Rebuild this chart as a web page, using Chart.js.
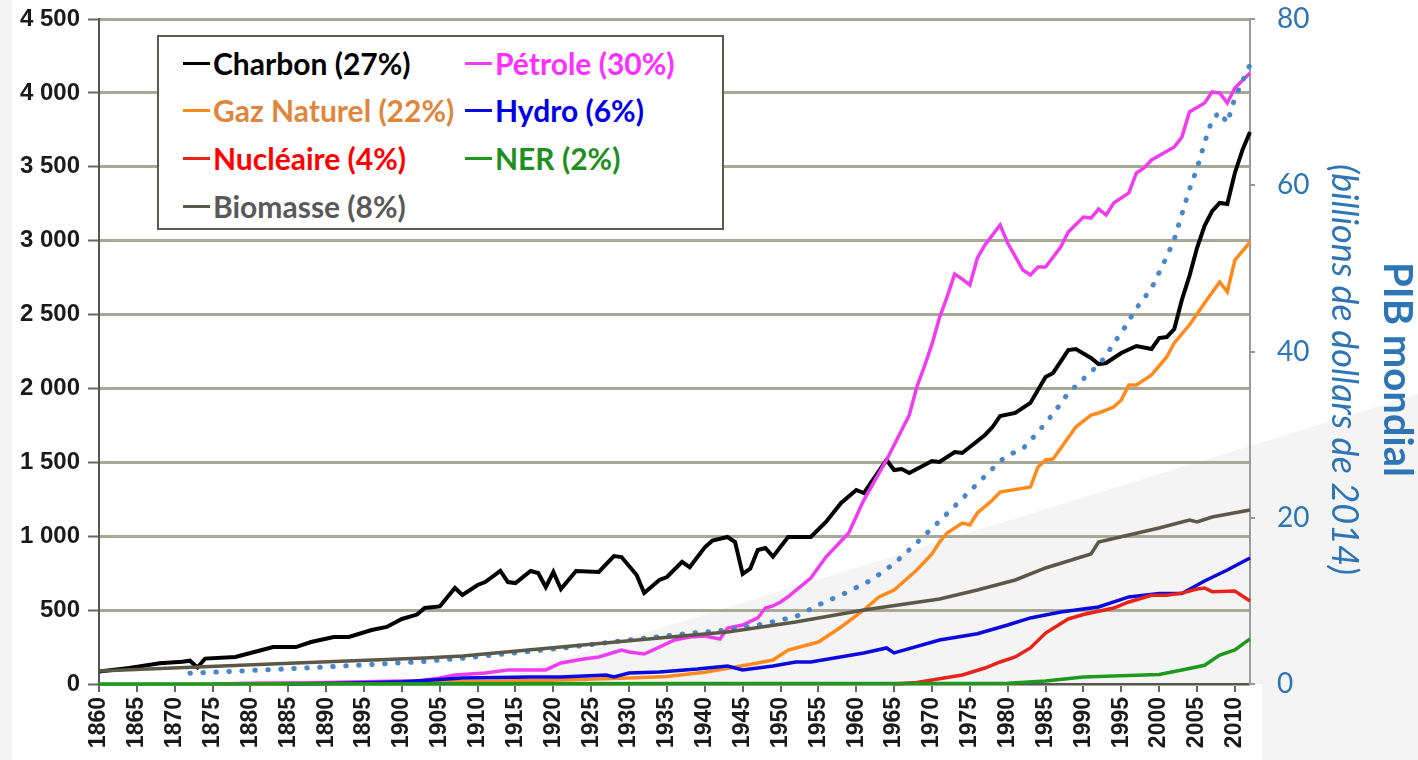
<!DOCTYPE html>
<html lang="fr">
<head>
<meta charset="utf-8">
<title>Consommation mondiale d'énergie et PIB</title>
<script src="https://cdn.jsdelivr.net/npm/chart.js@4.4.1/dist/chart.umd.min.js"></script>
<style>
    html, body { margin: 0; padding: 0; background: #ffffff; }
    #wrap { position: relative; width: 1418px; height: 760px; overflow: hidden; }
    #chartCanvas { position: absolute; left: 0; top: 0; }
    #legend {
        position: absolute; left: 157px; top: 35px; width: 563px; height: 191px;
        border: 2px solid #5a5a52; background: #ffffff;
        font-family: Lato, 'Open Sans', sans-serif; font-weight: bold; font-size: 30px;
    }
    .item { position: absolute; display: flex; align-items: center; height: 40px; white-space: nowrap; }
    .item .swatch { width: 27px; height: 3px; margin-right: 3px; }
</style>
</head>
<body>
<div id="wrap">
    <canvas id="chartCanvas" width="1418" height="760"></canvas>
    <div id="legend"></div>
</div>
<script>
// Séries (Mtep)
const charbonYears  = [1860,1864,1868,1871,1872,1873,1874,1878,1880,1883,1886,1888,1891,1893,1896,1898,1900,1902,1903,1905,1907,1908,1910,1911,1913,1914,1915,1917,1918,1919,1920,1921,1923,1926,1928,1929,1931,1932,1934,1935,1937,1938,1940,1941,1943,1944,1945,1946,1947,1948,1949,1951,1954,1956,1958,1960,1961,1964,1965,1966,1967,1970,1971,1973,1974,1977,1978,1979,1981,1983,1985,1986,1988,1989,1991,1992,1993,1995,1997,1999,2000,2001,2002,2003,2004,2005,2006,2007,2008,2009,2010,2011,2012];
const charbonValues = [85,108,140,150,158,112,172,183,210,250,250,284,318,318,365,386,440,470,515,525,650,602,670,690,765,690,683,765,751,656,758,643,765,758,866,859,738,616,704,724,826,790,925,970,995,961,745,780,907,920,862,995,995,1096,1225,1313,1292,1516,1448,1455,1428,1509,1502,1570,1563,1685,1739,1814,1834,1902,2078,2105,2260,2267,2206,2165,2172,2240,2287,2267,2341,2348,2402,2599,2760,2950,3100,3200,3255,3248,3458,3613,3735];

const petroleYears  = [1875,1880,1890,1900,1902,1905,1907,1911,1914,1919,1921,1924,1926,1929,1930,1932,1934,1936,1938,1940,1942,1943,1945,1947,1948,1949,1950,1951,1954,1956,1959,1961,1964,1967,1968,1969,1970,1971,1972,1973,1974,1975,1976,1977,1979,1980,1982,1983,1984,1985,1987,1988,1990,1991,1992,1993,1994,1996,1997,1998,1999,2002,2003,2004,2006,2007,2008,2009,2010,2012];
const petroleValues = [0,5,10,20,18,40,61,74,95,95,142,169,183,230,217,203,250,298,318,325,304,379,399,447,514,528,555,590,717,859,1022,1245,1516,1820,2010,2150,2300,2480,2620,2774,2740,2700,2883,2971,3106,2984,2802,2768,2822,2822,2957,3059,3160,3153,3214,3174,3255,3323,3458,3492,3546,3634,3701,3871,3932,4006,3999,3932,4033,4135];

const gazYears  = [1880,1890,1900,1920,1930,1935,1940,1944,1947,1949,1951,1955,1958,1961,1963,1965,1968,1970,1971,1972,1974,1975,1976,1978,1979,1983,1984,1985,1986,1989,1991,1992,1994,1995,1996,1997,1999,2001,2002,2004,2006,2008,2009,2010,2012];
const gazValues = [0,5,10,25,40,50,80,115,142,162,230,284,386,501,589,636,771,880,960,1022,1089,1076,1157,1245,1299,1333,1468,1516,1523,1739,1820,1834,1874,1922,2023,2023,2091,2213,2308,2429,2578,2720,2653,2869,2990];

const hydroYears  = [1885,1895,1900,1905,1908,1917,1921,1927,1928,1930,1934,1939,1943,1945,1949,1952,1954,1961,1964,1965,1971,1976,1980,1983,1987,1992,1996,2000,2003,2006,2009,2012];
const hydroValues = [0,8,15,30,40,47,47,61,47,74,81,101,122,95,122,149,149,210,244,210,298,340,399,447,487,521,589,612,612,697,771,853];

const nucleaireYears  = [1965,1968,1970,1974,1977,1979,1981,1983,1985,1988,1990,1994,1996,1999,2001,2003,2005,2006,2007,2010,2012];
const nucleaireValues = [0,10,27,61,108,149,183,244,345,440,470,514,555,600,600,615,643,650,625,629,562];

const nerYears  = [1860,1980,1985,1990,1994,2000,2003,2006,2008,2010,2012];
const nerValues = [0,5,20,47,54,65,95,127,196,230,305];

const biomasseYears  = [1860,1873,1886,1903,1908,1921,1934,1943,1952,1961,1971,1976,1981,1985,1991,1992,1996,2000,2004,2005,2007,2012];
const biomasseValues = [88,115,142,176,189,250,311,352,420,501,575,636,704,785,880,961,1008,1056,1110,1096,1130,1177];

// PIB mondial (axe de droite)
const pibYears  = [1872,1882,1890,1902,1908,1921,1930,1938,1943,1947,1952,1955,1958,1962,1965,1966,1968,1971,1973,1976,1979,1980,1982,1984,1986,1988,1990,1992,1993,1994,1995,1997,1999,2001,2002,2003,2004,2005,2006,2007,2008,2009,2010,2011,2012];
const pibValues = [1.3,1.7,2.05,2.65,3.1,4.3,5.3,6.1,6.5,7.1,8.1,9.5,10.7,12.5,14.5,15.3,17.0,19.6,21.4,24.1,26.8,27.5,28.3,30.3,32.5,35.0,36.7,38.4,39.5,41.0,42.2,45.2,47.6,51.4,53.5,56.5,59.5,62.0,65.1,67.9,68.8,67.5,70.5,72.5,74.5];

// Légende
const seriesNames  = ['Charbon (27%)', 'Gaz Naturel (22%)', 'Nucléaire (4%)', 'Biomasse (8%)', 'Pétrole (30%)', 'Hydro (6%)', 'NER (2%)'];
const lineColors   = ['#000000', '#ff8a1c', '#e8231a', '#5b5848', '#f03cf0', '#0a0ae0', '#1c9a1c'];
const textColors   = ['#000000', '#e0863c', '#ff0000', '#595959', '#ff30ff', '#0000e6', '#1f8f1f'];

// Axes
const xMin = 1860, xMax = 2012;
const xTickValues = [1860,1865,1870,1875,1880,1885,1890,1895,1900,1905,1910,1915,1920,1925,1930,1935,1940,1945,1950,1955,1960,1965,1970,1975,1980,1985,1990,1995,2000,2005,2010];
const yTicks = [0, 4500, 500];
const y1Ticks = [0, 80, 20];

const toPoints = (years, values) => years.map((y, i) => ({ x: y, y: values[i] }));
const fmtThousands = v => String(v).replace(/\B(?=(\d{3})+(?!\d))/g, ' ');
const noPadding = s => { s.paddingTop = 0; s.paddingBottom = 0; s.paddingLeft = 0; s.paddingRight = 0; };

// Fond gris clair (forme de la diapositive)
const backdrop = {
    id: 'backdrop',
    beforeDraw(chart) {
        const ctx = chart.ctx;
        const a = chart.chartArea;
        ctx.save();
        ctx.fillStyle = '#ffffff';
        ctx.fillRect(0, 0, chart.width, chart.height);
        ctx.fillStyle = '#f4f4f4';
        ctx.fillRect(0, 0, 12, chart.height);
        ctx.beginPath();
        ctx.moveTo(480, a.bottom);
        ctx.lineTo(chart.width, 394);
        ctx.lineTo(chart.width, chart.height);
        ctx.lineTo(a.right + 12, chart.height);
        ctx.lineTo(a.right + 12, a.bottom);
        ctx.closePath();
        ctx.fill();
        ctx.restore();
    }
};

// Titres de l'axe de droite
const rightTitles = {
    id: 'rightTitles',
    afterDraw(chart) {
        const ctx = chart.ctx;
        const a = chart.chartArea;
        const cy = (a.top + a.bottom) / 2 + 18;
        ctx.save();
        ctx.fillStyle = '#2e75b6';
        ctx.textAlign = 'center';
        ctx.textBaseline = 'middle';
        ctx.translate(1397, cy);
        ctx.rotate(Math.PI / 2);
        ctx.font = 'bold 40px Lato, "Open Sans", sans-serif';
        ctx.fillText('PIB mondial', 0, 0);
        ctx.restore();
        ctx.save();
        ctx.fillStyle = '#2e75b6';
        ctx.textAlign = 'center';
        ctx.textBaseline = 'middle';
        ctx.translate(1344, cy);
        ctx.rotate(Math.PI / 2);
        ctx.font = 'italic 36px Lato, "Open Sans", sans-serif';
        ctx.fillText('(billions de dollars de 2014)', 0, 0);
        ctx.restore();
    }
};

function line(label, years, values, color, width) {
    return {
        label: label,
        data: toPoints(years, values),
        borderColor: color,
        backgroundColor: color,
        borderWidth: width,
        pointRadius: 0,
        tension: 0,
        clip: false,
        yAxisID: 'y'
    };
}

const ctx = document.getElementById('chartCanvas').getContext('2d');
const chart = new Chart(ctx, {
    type: 'line',
    data: {
        datasets: [
            line('Biomasse', biomasseYears, biomasseValues, lineColors[3], 3.5),
            line('NER', nerYears, nerValues, lineColors[6], 3.5),
            line('Nucléaire', nucleaireYears, nucleaireValues, lineColors[2], 3.5),
            line('Hydro', hydroYears, hydroValues, lineColors[5], 3.5),
            line('Gaz Naturel', gazYears, gazValues, lineColors[1], 3.5),
            {
                label: 'PIB mondial',
                data: toPoints(pibYears, pibValues),
                borderColor: '#4a86c8',
                borderWidth: 5,
                borderDash: [0.5, 12.5],
                borderCapStyle: 'round',
                pointRadius: 0,
                clip: false,
                yAxisID: 'y1'
            },
            line('Pétrole', petroleYears, petroleValues, lineColors[4], 3.5),
            line('Charbon', charbonYears, charbonValues, lineColors[0], 4)
        ]
    },
    plugins: [backdrop, rightTitles],
    options: {
        responsive: false,
        animation: false,
        layout: { padding: { top: 19, left: 0, right: 0, bottom: 0 } },
        plugins: {
            legend: { display: false },
            tooltip: { enabled: false }
        },
        scales: {
            x: {
                type: 'linear',
                min: xMin,
                max: xMax,
                afterFit(s) { s.height = 76; noPadding(s); },
                afterBuildTicks(s) { s.ticks = xTickValues.map(v => ({ value: v })); },
                ticks: {
                    autoSkip: false,
                    minRotation: 90,
                    maxRotation: 90,
                    padding: 5,
                    color: '#1a1a1a',
                    font: { family: 'Liberation Sans', weight: 'bold', size: 23 },
                    callback: v => String(v)
                },
                grid: { drawOnChartArea: false, tickLength: 8, tickColor: '#666', lineWidth: 2 },
                border: { color: '#555', width: 2 }
            },
            y: {
                position: 'left',
                min: yTicks[0],
                max: yTicks[1],
                afterFit(s) { s.width = 99; noPadding(s); },
                ticks: {
                    stepSize: yTicks[2],
                    padding: 8,
                    color: '#1a1a1a',
                    font: { family: 'Liberation Sans', weight: 'bold', size: 24 },
                    callback: v => fmtThousands(v)
                },
                grid: { color: '#a8a896', lineWidth: 3, tickLength: 11, tickColor: '#666', tickWidth: 2 },
                border: { color: '#555', width: 2 }
            },
            y1: {
                position: 'right',
                min: y1Ticks[0],
                max: y1Ticks[1],
                afterFit(s) { s.width = 168; noPadding(s); },
                ticks: {
                    stepSize: y1Ticks[2],
                    padding: 22,
                    color: '#2e75b6',
                    font: { family: 'Lato', size: 28 }
                },
                grid: { drawOnChartArea: false, tickLength: 5, tickColor: '#999', lineWidth: 2 },
                border: { color: '#9a9a9a', width: 2 }
            }
        }
    }
});

// Légende en HTML, deux colonnes
const legend = document.getElementById('legend');
const colX = [24, 306];
const rowY = [6, 53, 101, 149];
seriesNames.forEach((name, i) => {
    const col = i < 4 ? 0 : 1;
    const row = i < 4 ? i : i - 4;
    const div = document.createElement('div');
    div.className = 'item';
    div.style.left = colX[col] + 'px';
    div.style.top = rowY[row] + 'px';
    div.style.color = textColors[i];
    div.innerHTML = '<span class="swatch" style="background:' + lineColors[i] + '"></span>' + name;
    legend.appendChild(div);
});
</script>
</body>
</html>
